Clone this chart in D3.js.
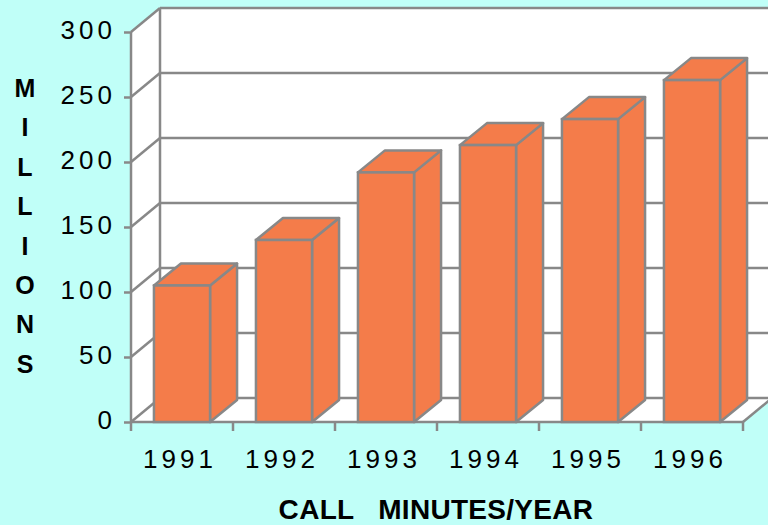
<!DOCTYPE html>
<html>
<head>
<meta charset="utf-8">
<script src="https://cdn.jsdelivr.net/npm/d3@7"></script>
<style>
  html, body { margin: 0; padding: 0; background: #c0fff8; }
  svg { display: block; }
  text { font-family: "Liberation Sans", Arial, sans-serif; }
</style>
</head>
<body>
<svg id="chart" width="768" height="525"></svg>
<script>
const years = ["1991", "1992", "1993", "1994", "1995", "1996"];
const minutes = [105, 140, 192, 213, 233, 263];
const yTicks = [0, 50, 100, 150, 200, 250, 300];
const yTitleLetters = ["M", "I", "L", "L", "I", "O", "N", "S"];
const xTitle = "CALL   MINUTES/YEAR";

const W = 768, H = 525;
const svg = d3.select("#chart");
svg.append("rect").attr("width", W).attr("height", H).attr("fill", "#c0fff8");

const x0 = 131, x1 = 743;
const wallDx = 29, wallDy = 24;
const barDx = 27, barDy = 22;
const grey = "#888888";
const barFill = "#f47c4a";

const x = d3.scaleBand().domain(years).range([x0, x1]).paddingInner(0).paddingOuter(0);
const y = d3.scaleLinear().domain([0, 300]).range([422, 32]);

// Back wall
svg.append("rect")
  .attr("x", x0 + wallDx).attr("y", y(300) - wallDy)
  .attr("width", W + 10 - (x0 + wallDx)).attr("height", y(0) - y(300))
  .attr("fill", "#ffffff");
// Left wall
svg.append("polygon")
  .attr("points", [[x0, y(0)], [x0, y(300)], [x0 + wallDx, y(300) - wallDy], [x0 + wallDx, y(0) - wallDy]].join(" "))
  .attr("fill", "#ffffff");
// Floor
svg.append("polygon")
  .attr("points", [[x0, y(0)], [x1, y(0)], [x1 + wallDx, y(0) - wallDy], [x0 + wallDx, y(0) - wallDy]].join(" "))
  .attr("fill", "#ffffff");

const g = svg.append("g").attr("stroke", grey).attr("stroke-width", 2.5).attr("fill", "none");

// Gridlines on walls
yTicks.forEach(v => {
  g.append("line").attr("x1", x0).attr("y1", y(v)).attr("x2", x0 + wallDx).attr("y2", y(v) - wallDy);
  g.append("line").attr("x1", x0 + wallDx).attr("y1", y(v) - wallDy).attr("x2", W + 10).attr("y2", y(v) - wallDy);
});
// Left wall back vertical edge
g.append("line").attr("x1", x0 + wallDx).attr("y1", y(0) - wallDy).attr("x2", x0 + wallDx).attr("y2", y(300) - wallDy);
// Floor right edge
g.append("line").attr("x1", x1).attr("y1", y(0)).attr("x2", x1 + wallDx).attr("y2", y(0) - wallDy);

// Y axis (front)
const yAxis = d3.axisLeft(y).tickValues(yTicks).tickSize(7).tickFormat("");
const ya = svg.append("g").attr("transform", `translate(${x0},0)`).call(yAxis);
ya.selectAll("path,line").attr("stroke", grey).attr("stroke-width", 2.5);
ya.select(".domain").attr("d", `M0,${y(0)}V${y(300)}`);

// Y tick labels
svg.append("g").selectAll("text").data(yTicks).join("text")
  .attr("x", 116).attr("y", d => y(d) + 7)
  .attr("text-anchor", "end")
  .attr("font-size", 26).attr("letter-spacing", 4)
  .attr("fill", "#000").text(d => d);

// X axis (front)
const xTickPos = years.map(d => x(d)).concat([x1]);
const xa = svg.append("g");
xa.append("line").attr("x1", x0).attr("y1", y(0)).attr("x2", x1).attr("y2", y(0)).attr("stroke", grey).attr("stroke-width", 2.5);
xa.selectAll("line.tick").data(xTickPos).join("line").attr("class", "tick")
  .attr("x1", d => d).attr("x2", d => d).attr("y1", y(0)).attr("y2", y(0) + 9)
  .attr("stroke", grey).attr("stroke-width", 2.5);

// X labels
svg.append("g").selectAll("text").data(years).join("text")
  .attr("x", d => x(d) + x.bandwidth() / 2 - 2).attr("y", 468)
  .attr("text-anchor", "middle")
  .attr("font-size", 26).attr("letter-spacing", 4)
  .attr("fill", "#000").text(d => d);

// Bars
const bw = x.bandwidth() * 0.55;
const bars = svg.append("g").selectAll("g").data(years.map((d, i) => ({ year: d, v: minutes[i] }))).join("g");
bars.each(function (d) {
  const gg = d3.select(this);
  const l = x(d.year) + (x.bandwidth() - bw) / 2, r = l + bw;
  const t = y(d.v), b = y(0);
  gg.append("polygon")
    .attr("points", [[r, b], [r, t], [r + barDx, t - barDy], [r + barDx, b - barDy]].join(" "))
    .attr("fill", barFill).attr("stroke", grey).attr("stroke-width", 2.5).attr("stroke-linejoin", "round");
  gg.append("polygon")
    .attr("points", [[l, t], [r, t], [r + barDx, t - barDy], [l + barDx, t - barDy]].join(" "))
    .attr("fill", barFill).attr("stroke", grey).attr("stroke-width", 2.5).attr("stroke-linejoin", "round");
  gg.append("rect").attr("x", l).attr("y", t).attr("width", bw).attr("height", b - t)
    .attr("fill", barFill).attr("stroke", grey).attr("stroke-width", 2.5);
});

// Y title stacked letters
svg.append("g").selectAll("text").data(yTitleLetters).join("text")
  .attr("x", 25).attr("y", (d, i) => 97 + i * 39.4)
  .attr("text-anchor", "middle")
  .attr("font-size", 25).attr("font-weight", "bold")
  .attr("fill", "#000").text(d => d);

// X title
svg.append("text")
  .attr("x", 436).attr("y", 519)
  .attr("text-anchor", "middle")
  .attr("font-size", 28).attr("font-weight", "bold")
  .attr("letter-spacing", 0.3)
  .style("white-space", "pre")
  .attr("fill", "#000").text(xTitle);
</script>
</body>
</html>
